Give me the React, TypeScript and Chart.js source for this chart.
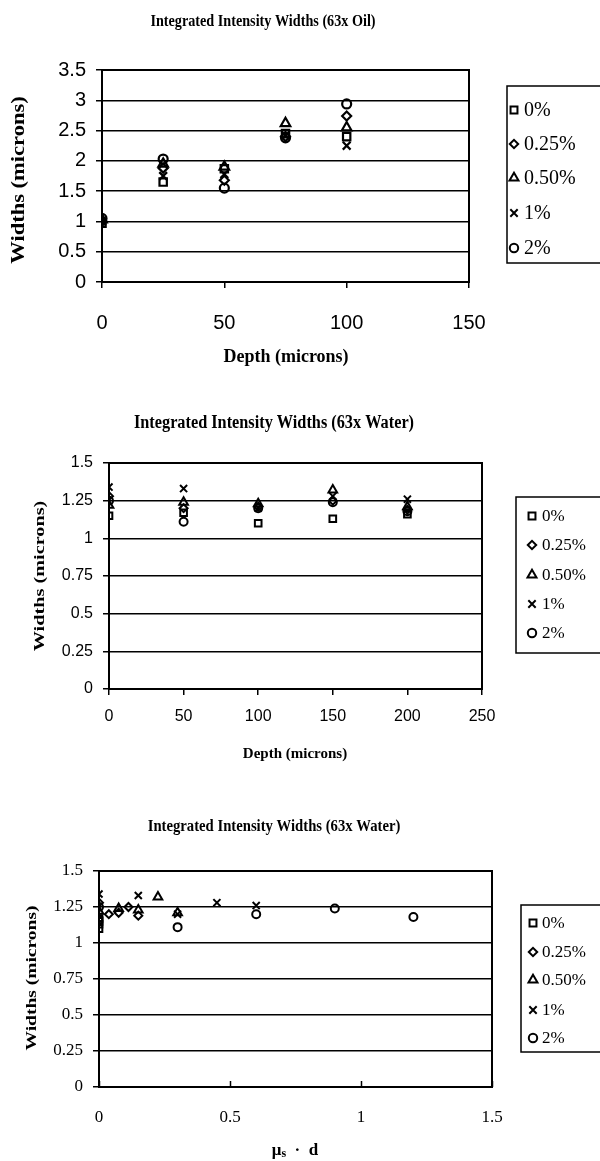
import React, { useEffect, useRef } from "react";
import { Chart, registerables } from "chart.js";
import { drawPoint } from "chart.js/helpers";

Chart.register(...registerables);

// ---------- data ----------
const seriesLabels = ["0%", "0.25%", "0.50%", "1%", "2%"];
const pointStyles = ["rect", "rectRot", "triangle", "crossRot", "circle"];

const oilDepth = [0, 25, 50, 75, 100];
const oil0 = [0.97, 1.65, 1.87, 2.45, 2.4];
const oil025 = [1.0, 1.88, 1.68, 2.4, 2.74];
const oil050 = [1.03, 1.95, 1.9, 2.62, 2.55];
const oil1 = [1.0, 1.75, 1.78, 2.42, 2.25];
const oil2 = [1.05, 2.03, 1.55, 2.38, 2.94];

const waterDepth = [0, 50, 100, 150, 200];
const water0 = [1.15, 1.17, 1.1, 1.13, 1.16];
const water025 = [1.28, 1.2, 1.21, 1.25, 1.19];
const water050 = [1.22, 1.24, 1.23, 1.32, 1.21];
const water1 = [1.34, 1.33, 1.2, 1.28, 1.26];
const water2 = [1.25, 1.11, 1.2, 1.24, 1.18];

const musd0 = [0, 0, 0, 0, 0];
const musd025 = [0, 0.0375, 0.075, 0.1125, 0.15];
const musd050 = [0, 0.075, 0.15, 0.225, 0.3];
const musd1 = [0, 0.15, 0.3, 0.45, 0.6];
const musd2 = [0, 0.3, 0.6, 0.9, 1.2];

const oilYTicks = [0, 0.5, 1, 1.5, 2, 2.5, 3, 3.5];
const oilYLabels = ["0", "0.5", "1", "1.5", "2", "2.5", "3", "3.5"];
const oilXTicks = [0, 50, 100, 150];
const oilXLabels = ["0", "50", "100", "150"];
const waterYTicks = [0, 0.25, 0.5, 0.75, 1, 1.25, 1.5];
const waterYLabels = ["0", "0.25", "0.5", "0.75", "1", "1.25", "1.5"];
const waterXTicks = [0, 50, 100, 150, 200, 250];
const waterXLabels = ["0", "50", "100", "150", "200", "250"];
const musdXTicks = [0, 0.5, 1, 1.5];
const musdXLabels = ["0", "0.5", "1", "1.5"];

const title1 = "Integrated Intensity Widths (63x Oil)";
const title2 = "Integrated Intensity Widths (63x Water)";
const title3 = "Integrated Intensity Widths (63x Water)";
const xTitleDepth = "Depth (microns)";
const yTitleWidths = "Widths (microns)";

// ---------- layout specs ----------
const SERIF = "'Liberation Serif', 'Times New Roman', serif";
const SANS = "'Liberation Sans', Arial, sans-serif";

type Spec = {
  top: number;
  h: number;
  xs: number[][];
  ys: number[][];
  xTicks: number[];
  xLabels: string[];
  yTicks: number[];
  yLabels: string[];
  xMax: number;
  yMax: number;
  pad: { left: number; top: number; right: number; bottom: number };
  yAxisW: number;
  xAxisH: number;
  tickFont: string;
  tickSize: number;
  yTickPad: number;
  xTickPad: number;
  xTicksInside: boolean;
  radius: number;
  markerBorder: number;
  title: string;
  titlePos: [number, number];
  titleSize: number;
  xTitle: string | null;
  xTitlePos: [number, number];
  axisTitleSize: number;
  yTitlePos: [number, number];
  yTitleSize: number;
  yTitleStretch: number;
  legendBox: [number, number, number, number];
  legendMarkerX: number;
  legendTextX: number;
  legendYs: number[];
  legendSize: number;
};

const specs: Spec[] = [
  {
    top: 0,
    h: 390,
    xs: [oilDepth, oilDepth, oilDepth, oilDepth, oilDepth],
    ys: [oil0, oil025, oil050, oil1, oil2],
    xTicks: oilXTicks,
    xLabels: oilXLabels,
    yTicks: oilYTicks,
    yLabels: oilYLabels,
    xMax: 150,
    yMax: 3.5,
    pad: { left: 0, top: 70, right: 131, bottom: 48 },
    yAxisW: 102,
    xAxisH: 60,
    tickFont: SANS,
    tickSize: 20,
    yTickPad: 10,
    xTickPad: 23,
    xTicksInside: false,
    radius: 4.5,
    markerBorder: 2.2,
    title: title1,
    titlePos: [263, 22],
    titleSize: 14.2,
    xTitle: xTitleDepth,
    xTitlePos: [286, 357],
    axisTitleSize: 18,
    yTitlePos: [19, 180],
    yTitleSize: 18,
    yTitleStretch: 1.25,
    legendBox: [507, 86, 100, 177],
    legendMarkerX: 514,
    legendTextX: 524,
    legendYs: [110, 144, 178, 213, 248],
    legendSize: 20,
  },
  {
    top: 390,
    h: 380,
    xs: [waterDepth, waterDepth, waterDepth, waterDepth, waterDepth],
    ys: [water0, water025, water050, water1, water2],
    xTicks: waterXTicks,
    xLabels: waterXLabels,
    yTicks: waterYTicks,
    yLabels: waterYLabels,
    xMax: 250,
    yMax: 1.5,
    pad: { left: 0, top: 73, right: 118, bottom: 31 },
    yAxisW: 109,
    xAxisH: 50,
    tickFont: SANS,
    tickSize: 16,
    yTickPad: 10,
    xTickPad: 12,
    xTicksInside: false,
    radius: 4,
    markerBorder: 2,
    title: title2,
    titlePos: [274, 33],
    titleSize: 16.3,
    xTitle: xTitleDepth,
    xTitlePos: [295, 364],
    axisTitleSize: 15,
    yTitlePos: [40, 186],
    yTitleSize: 15,
    yTitleStretch: 1.35,
    legendBox: [516, 107, 90, 156],
    legendMarkerX: 532,
    legendTextX: 542,
    legendYs: [126, 155, 185, 214, 243],
    legendSize: 17,
  },
  {
    top: 770,
    h: 391,
    xs: [musd0, musd025, musd050, musd1, musd2],
    ys: [water0, water025, water050, water1, water2],
    xTicks: musdXTicks,
    xLabels: musdXLabels,
    yTicks: waterYTicks,
    yLabels: waterYLabels,
    xMax: 1.5,
    yMax: 1.5,
    pad: { left: 0, top: 101, right: 108, bottom: 24 },
    yAxisW: 99,
    xAxisH: 50,
    tickFont: SERIF,
    tickSize: 17,
    yTickPad: 10,
    xTickPad: 20,
    xTicksInside: true,
    radius: 4,
    markerBorder: 2,
    title: title3,
    titlePos: [274, 56],
    titleSize: 14.7,
    xTitle: null,
    xTitlePos: [295, 381],
    axisTitleSize: 17,
    yTitlePos: [32, 208],
    yTitleSize: 15,
    yTitleStretch: 1.3,
    legendBox: [521, 135, 90, 147],
    legendMarkerX: 533,
    legendTextX: 542,
    legendYs: [153, 182, 210, 240, 268],
    legendSize: 17,
  },
];

function markerRadius(style: string, r: number) {
  if (style === "triangle" || style === "crossRot") return r + 1;
  if (style === "rect") return r + 0.7;
  return r;
}

function makeDecor(spec: Spec) {
  return {
    id: "decor",
    afterDraw(chart: any) {
      const ctx: CanvasRenderingContext2D = chart.ctx;
      const a = chart.chartArea;
      ctx.save();
      // plot frame
      ctx.strokeStyle = "#000";
      ctx.lineWidth = 2;
      ctx.strokeRect(a.left, a.top, a.right - a.left, a.bottom - a.top);

      // inward tick marks on the x axis (third panel)
      if (spec.xTicksInside) {
        const xs = chart.scales.x;
        ctx.lineWidth = 1.5;
        spec.xTicks.forEach((v) => {
          const px = Math.round(xs.getPixelForValue(v)) + 0.5;
          ctx.beginPath();
          ctx.moveTo(px, a.bottom);
          ctx.lineTo(px, a.bottom - 6);
          ctx.stroke();
        });
      }

      ctx.fillStyle = "#000";
      ctx.textAlign = "center";
      ctx.textBaseline = "middle";
      // chart title (slightly tall, as in the scanned figure)
      ctx.save();
      ctx.translate(spec.titlePos[0], spec.titlePos[1]);
      ctx.scale(1, 1.2);
      ctx.font = `bold ${spec.titleSize}px ${SERIF}`;
      ctx.fillText(spec.title, 0, 0);
      ctx.restore();

      // x title
      ctx.font = `bold ${spec.axisTitleSize}px ${SERIF}`;
      if (spec.xTitle) {
        ctx.fillText(spec.xTitle, spec.xTitlePos[0], spec.xTitlePos[1]);
      } else {
        // "μs · d" with subscript s
        const parts = [
          { t: "μ", f: `bold ${spec.axisTitleSize}px ${SERIF}`, dy: 0 },
          { t: "s", f: `bold ${spec.axisTitleSize - 5}px ${SERIF}`, dy: 3 },
          { t: "  ·  d", f: `bold ${spec.axisTitleSize}px ${SERIF}`, dy: 0 },
        ];
        let total = 0;
        parts.forEach((p) => {
          ctx.font = p.f;
          total += ctx.measureText(p.t).width;
        });
        let x = spec.xTitlePos[0] - total / 2;
        ctx.textAlign = "left";
        parts.forEach((p) => {
          ctx.font = p.f;
          ctx.fillText(p.t, x, spec.xTitlePos[1] + p.dy);
          x += ctx.measureText(p.t).width;
        });
        ctx.textAlign = "center";
      }

      // y title
      ctx.save();
      ctx.translate(spec.yTitlePos[0], spec.yTitlePos[1]);
      ctx.rotate(-Math.PI / 2);
      ctx.scale(spec.yTitleStretch, 1);
      ctx.font = `bold ${spec.yTitleSize}px ${SERIF}`;
      ctx.fillText(yTitleWidths, 0, 0);
      ctx.restore();

      // legend
      const [lx, ly, lw, lh] = spec.legendBox;
      ctx.fillStyle = "#fff";
      ctx.fillRect(lx, ly, lw, lh);
      ctx.strokeStyle = "#000";
      ctx.lineWidth = 1.5;
      ctx.strokeRect(lx, ly, lw, lh);
      ctx.textAlign = "left";
      ctx.font = `${spec.legendSize}px ${SERIF}`;
      seriesLabels.forEach((lab, i) => {
        const y = spec.legendYs[i];
        ctx.strokeStyle = "#000";
        ctx.fillStyle = "rgba(0,0,0,0)";
        ctx.lineWidth = 2;
        drawPoint(
          ctx,
          {
            pointStyle: pointStyles[i] as any,
            radius: markerRadius(pointStyles[i], 4.2),
            rotation: 0,
            borderWidth: 2,
          } as any,
          spec.legendMarkerX,
          y
        );
        ctx.fillStyle = "#000";
        ctx.fillText(lab, spec.legendTextX, y + 1);
      });
      ctx.restore();
    },
  };
}

function buildConfig(spec: Spec): any {
  const datasets = spec.ys.map((ys, i) => ({
    label: seriesLabels[i],
    data: spec.xs[i].map((x, j) => ({ x, y: ys[j] })),
    pointStyle: pointStyles[i],
    pointRadius: markerRadius(pointStyles[i], spec.radius),
    pointBorderWidth: spec.markerBorder,
    borderColor: "#000",
    backgroundColor: "rgba(0,0,0,0)",
    pointBorderColor: "#000",
    pointBackgroundColor: "rgba(0,0,0,0)",
    showLine: false,
  }));
  return {
    type: "scatter",
    data: { datasets },
    options: {
      animation: false,
      responsive: false,
      events: [],
      layout: { padding: spec.pad },
      plugins: {
        legend: { display: false },
        title: { display: false },
        tooltip: { enabled: false },
      },
      scales: {
        x: {
          type: "linear",
          min: 0,
          max: spec.xMax,
          afterBuildTicks: (s: any) => {
            s.ticks = spec.xTicks.map((v) => ({ value: v }));
          },
          afterFit: (s: any) => {
            s.height = spec.xAxisH;
          },
          grid: {
            drawOnChartArea: false,
            drawTicks: !spec.xTicksInside,
            tickLength: 6,
            color: "#000",
            lineWidth: 1.5,
          },
          border: { display: true, color: "#000", width: 2 },
          ticks: {
            color: "#000",
            padding: spec.xTickPad,
            maxRotation: 0,
            autoSkip: false,
            font: { family: spec.tickFont, size: spec.tickSize },
            callback: (_v: any, i: number) => spec.xLabels[i],
          },
        },
        y: {
          type: "linear",
          min: 0,
          max: spec.yMax,
          afterBuildTicks: (s: any) => {
            s.ticks = spec.yTicks.map((v) => ({ value: v }));
          },
          afterFit: (s: any) => {
            s.width = spec.yAxisW;
          },
          grid: {
            drawTicks: true,
            tickLength: 6,
            color: "#000",
            lineWidth: 1.5,
          },
          border: { display: true, color: "#000", width: 2 },
          ticks: {
            color: "#000",
            padding: spec.yTickPad,
            autoSkip: false,
            font: { family: spec.tickFont, size: spec.tickSize },
            callback: (_v: any, i: number) => spec.yLabels[i],
          },
        },
      },
    },
    plugins: [makeDecor(spec)],
  };
}

function ChartBox({ spec }: { spec: Spec }) {
  const ref = useRef<HTMLCanvasElement>(null);
  useEffect(() => {
    const chart = new Chart(ref.current as HTMLCanvasElement, buildConfig(spec));
    return () => chart.destroy();
  }, [spec]);
  return (
    <canvas
      ref={ref}
      width={600}
      height={spec.h}
      style={{ position: "absolute", left: 0, top: spec.top, width: 600, height: spec.h }}
    />
  );
}

export default function App() {
  return (
    <div
      style={{
        position: "absolute",
        left: 0,
        top: 0,
        width: 600,
        height: 1161,
        background: "#fff",
        overflow: "hidden",
      }}
    >
      {specs.map((s, i) => (
        <ChartBox key={i} spec={s} />
      ))}
    </div>
  );
}
